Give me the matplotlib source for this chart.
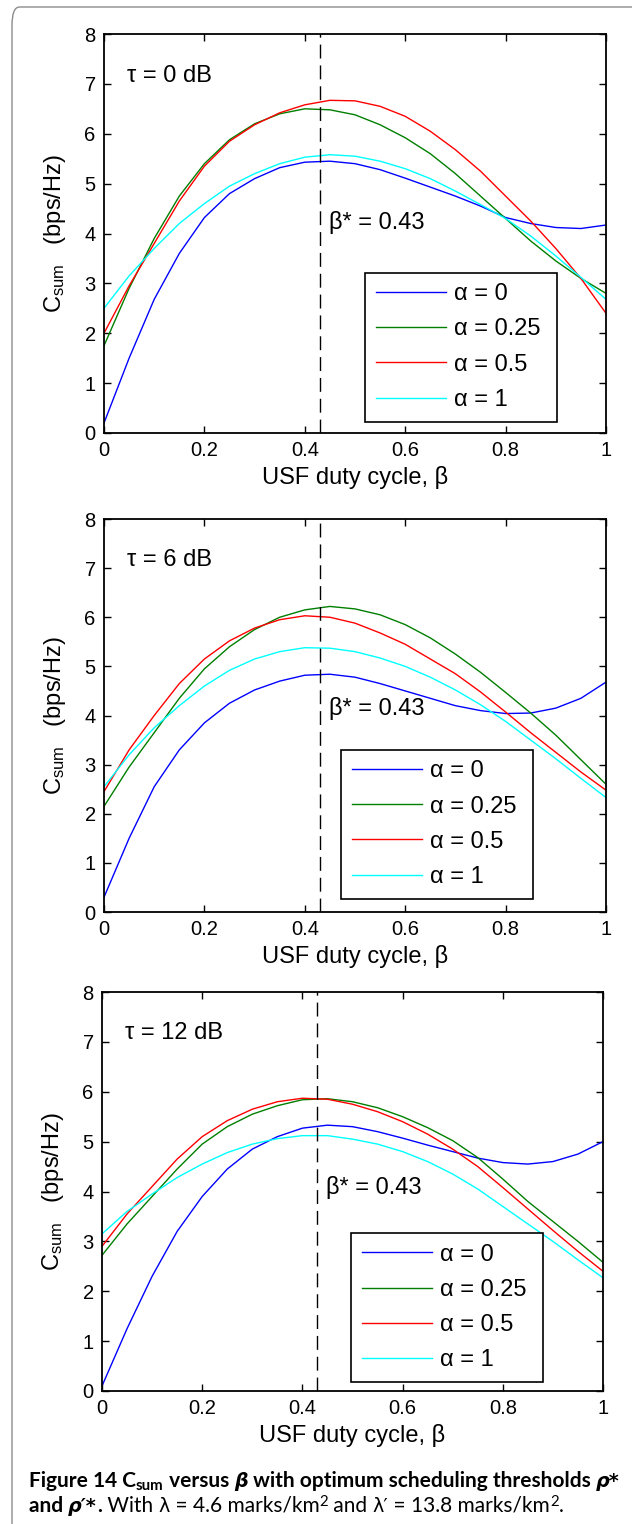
import numpy as np
import matplotlib
matplotlib.use("Agg")
import matplotlib.pyplot as plt
from matplotlib.patches import FancyBboxPatch

plt.rcParams['font.family'] = ['Liberation Sans', 'DejaVu Sans']
plt.rcParams['mathtext.fontset'] = 'custom'
plt.rcParams['mathtext.rm'] = 'Liberation Sans'
plt.rcParams['mathtext.it'] = 'Liberation Sans:italic'
plt.rcParams['mathtext.bf'] = 'Liberation Sans:bold'

# ---------------- data ----------------
beta = [0.00, 0.05, 0.10, 0.15, 0.20, 0.25, 0.30, 0.35, 0.40, 0.45, 0.50,
        0.55, 0.60, 0.65, 0.70, 0.75, 0.80, 0.85, 0.90, 0.95, 1.00]

alpha_labels = ['α = 0', 'α = 0.25', 'α = 0.5', 'α = 1']
tau_labels = ['τ = 0 dB', 'τ = 6 dB', 'τ = 12 dB']
beta_star = 0.43
beta_star_label = 'β* = 0.43'

# tau = 0 dB
t0_a0 = [0.20, 1.50, 2.68, 3.60, 4.32, 4.80, 5.10, 5.32, 5.43, 5.45, 5.40,
         5.28, 5.11, 4.93, 4.75, 4.55, 4.32, 4.20, 4.12, 4.10, 4.17]
t0_a025 = [1.75, 2.90, 3.90, 4.75, 5.40, 5.88, 6.20, 6.40, 6.50, 6.48, 6.38,
           6.18, 5.92, 5.60, 5.20, 4.75, 4.30, 3.85, 3.45, 3.10, 2.80]
t0_a05 = [2.00, 2.95, 3.80, 4.65, 5.35, 5.85, 6.18, 6.42, 6.58, 6.67, 6.66,
          6.55, 6.35, 6.05, 5.68, 5.25, 4.75, 4.25, 3.70, 3.10, 2.40]
t0_a1 = [2.50, 3.15, 3.70, 4.20, 4.60, 4.95, 5.20, 5.40, 5.53, 5.58, 5.55,
         5.45, 5.30, 5.10, 4.85, 4.58, 4.30, 3.95, 3.55, 3.12, 2.68]

# tau = 6 dB
t6_a0 = [0.30, 1.50, 2.55, 3.30, 3.85, 4.25, 4.52, 4.70, 4.82, 4.84, 4.78,
         4.65, 4.50, 4.35, 4.20, 4.10, 4.04, 4.05, 4.15, 4.35, 4.68]
t6_a025 = [2.15, 2.95, 3.65, 4.35, 4.95, 5.40, 5.75, 6.00, 6.15, 6.22, 6.17,
           6.05, 5.85, 5.58, 5.25, 4.88, 4.47, 4.05, 3.60, 3.10, 2.60]
t6_a05 = [2.45, 3.30, 4.00, 4.65, 5.15, 5.52, 5.78, 5.95, 6.03, 6.00, 5.88,
          5.68, 5.45, 5.15, 4.85, 4.48, 4.07, 3.65, 3.25, 2.85, 2.48]
t6_a1 = [2.55, 3.20, 3.75, 4.20, 4.60, 4.92, 5.15, 5.30, 5.38, 5.37, 5.30,
         5.17, 5.00, 4.78, 4.52, 4.22, 3.88, 3.50, 3.12, 2.72, 2.33]

# tau = 12 dB
t12_a0 = [0.10, 1.25, 2.30, 3.20, 3.90, 4.45, 4.85, 5.10, 5.27, 5.33, 5.30,
          5.20, 5.07, 4.93, 4.80, 4.67, 4.58, 4.55, 4.60, 4.75, 5.00]
t12_a025 = [2.72, 3.35, 3.90, 4.45, 4.95, 5.30, 5.55, 5.72, 5.84, 5.86, 5.80,
            5.68, 5.50, 5.28, 5.02, 4.68, 4.25, 3.80, 3.40, 3.00, 2.58]
t12_a05 = [2.90, 3.55, 4.10, 4.65, 5.10, 5.42, 5.65, 5.80, 5.87, 5.85, 5.75,
           5.60, 5.40, 5.15, 4.85, 4.50, 4.08, 3.65, 3.22, 2.80, 2.40]
t12_a1 = [3.15, 3.60, 3.95, 4.28, 4.55, 4.78, 4.95, 5.06, 5.12, 5.12, 5.05,
          4.95, 4.80, 4.60, 4.35, 4.05, 3.70, 3.35, 3.00, 2.63, 2.27]

panels = [
    [t0_a0, t0_a025, t0_a05, t0_a1],
    [t6_a0, t6_a025, t6_a05, t6_a1],
    [t12_a0, t12_a025, t12_a05, t12_a1],
]

xticks = [0, 0.2, 0.4, 0.6, 0.8, 1]
xticklabels = ['0', '0.2', '0.4', '0.6', '0.8', '1']
yticks = [0, 1, 2, 3, 4, 5, 6, 7, 8]

# ---------------- styles ----------------
colors = ['#0000ff', '#007f00', '#ff0000', '#00ffff']
W, H = 632, 1524
DPI = 100
fig = plt.figure(figsize=(W / DPI, H / DPI), dpi=DPI)

# axes boxes in pixels: (left, top, right, bottom)
boxes = [(104, 34, 606, 433), (104, 519, 606, 912), (102, 992, 603, 1391)]
# legend boxes in axes fraction: (x0, bottom, width, top)
leg_box = [(0.520, 0.033, 0.383, 0.402),
           (0.472, 0.038, 0.383, 0.413),
           (0.498, 0.027, 0.383, 0.396)]
star_y = [4.23, 4.14, 4.09]
tau_y = [7.15, 7.16, 7.18]

TFS = 14.5   # tick labels
FS = 17      # other texts

for i, (l, t, r, b) in enumerate(boxes):
    ax = fig.add_axes([l / W, 1 - b / H, (r - l) / W, (b - t) / H])
    handles = []
    for j, ys in enumerate(panels[i]):
        ln, = ax.plot(beta, ys, color=colors[j], lw=1.0, label=alpha_labels[j])
        handles.append(ln)
    ax.axvline(beta_star, color='black', lw=1.0, dashes=(10, 5))
    ax.set_xlim(0, 1)
    ax.set_ylim(0, 8)
    ax.set_xticks(xticks)
    ax.set_xticklabels(xticklabels)
    ax.set_yticks(yticks)
    ax.tick_params(direction='in', top=True, right=True, length=5, width=1,
                   labelsize=TFS, pad=6)
    for sp in ax.spines.values():
        sp.set_linewidth(1.3)
    ax.set_xlabel('USF duty cycle, β', fontsize=FS, labelpad=4)
    ax.set_ylabel('C$_{\\rm sum}$   (bps/Hz)', fontsize=FS, labelpad=12)
    ax.text(0.046, tau_y[i], tau_labels[i], fontsize=FS, va='center', ha='left')
    ax.text(0.448, star_y[i], beta_star_label, fontsize=FS, va='center', ha='left')
    x0, y0, w, y1 = leg_box[i]
    leg = ax.legend(handles=handles, loc='upper left',
                    bbox_to_anchor=(x0, y0, w, y1 - y0), mode='expand',
                    fontsize=FS, frameon=True, fancybox=False, framealpha=1,
                    edgecolor='black', handlelength=2.97, handletextpad=0.34,
                    labelspacing=0.56, borderpad=0.45, borderaxespad=0)
    leg.get_frame().set_linewidth(1.2)

# figure border (rounded box)
border = FancyBboxPatch((12 / W, -0.2), 1.2, 0.2 + 1 - 7 / H,
                        boxstyle='round,pad=0,rounding_size=0.012',
                        transform=fig.transFigure, fill=False,
                        edgecolor='#8c8c8c', lw=1.0, clip_on=False)
fig.patches.append(border)

# caption, drawn piecewise
renderer = fig.canvas.get_renderer()

def make_styles(cf):
    bold = dict(family=['Lato', 'DejaVu Sans'], weight='bold', fontsize=cf)
    boldit = dict(family=['DejaVu Sans'], weight='bold', style='italic', fontsize=cf * 0.92)
    reg = dict(family=['Lato', 'DejaVu Sans'], weight='normal', fontsize=cf)
    sub_b = dict(family=['Lato', 'DejaVu Sans'], weight='bold', fontsize=cf * 0.72, dy=3)
    sup_r = dict(family=['Lato', 'DejaVu Sans'], weight='normal', fontsize=cf * 0.72, dy=-6)
    regm = dict(family=['DejaVu Sans'], weight='normal', fontsize=cf * 0.92)
    return bold, boldit, reg, sub_b, sup_r, regm

def draw_pieces(x_px, y_px, pieces):
    x = x_px
    made = []
    for txt, props in pieces:
        props = dict(props)
        dy = props.pop('dy', 0)
        t = fig.text(x / W, 1 - (y_px + dy) / H, txt, va='baseline', ha='left',
                     **props)
        bb = t.get_window_extent(renderer=renderer)
        x += bb.width
        made.append(t)
    return made, x - x_px

def caption(cf):
    bold, boldit, reg, sub_b, sup_r, regm = make_styles(cf)
    l1 = [('Figure 14 C', bold), ('sum', sub_b), (' versus ', bold),
          ('β', boldit), (' with optimum scheduling thresholds ', bold),
          ('ρ*', boldit)]
    l2 = [('and ', bold), ('ρ′*', boldit), ('.', bold),
          (' With ', reg), ('λ', regm), (' = 4.6 marks/km', reg),
          ('2', sup_r), (' and ', reg), ('λ′', regm),
          (' = 13.8 marks/km', reg), ('2', sup_r), ('.', reg)]
    m1, w1 = draw_pieces(29, 1487, l1)
    m2, w2 = draw_pieces(29, 1512, l2)
    return m1 + m2, w1

made, w1 = caption(12.0)
target = 587.0
for t in made:
    t.remove()
caption(12.0 * target / w1)

fig.savefig('out.png', dpi=DPI)
